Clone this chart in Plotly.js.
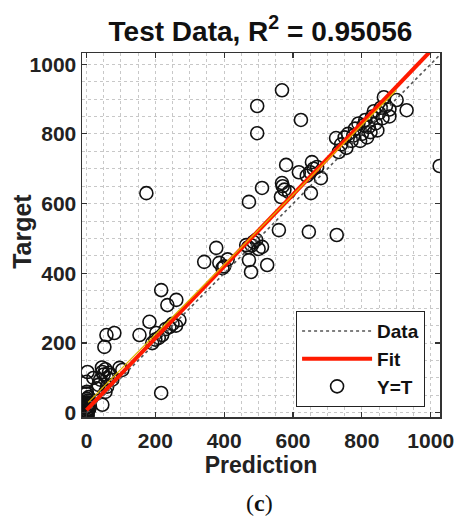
<!DOCTYPE html>
<html>
<head>
<meta charset="utf-8">
<script src="https://cdn.plot.ly/plotly-3.0.1.min.js"></script>
<style>html,body{margin:0;padding:0;background:#fff;}#chart{width:457px;height:523px;}</style>
</head>
<body>
<div id="chart"></div>
<script>
// Test data: prediction (x) vs target (y)
const prediction = [
  0,1,2,3,0,5,2,1,4,6,0,3,8,2,1,0,5,3,10,7,
  3,0,20,46,40,50,55,60,65,70,45,35,75,60,104,96,46,30,55,
  58,81,52,154,183,203,220,191,241,217,235,261,270,250,230,210,200,260,217,
  342,377,386,400,410,395,464,493,510,472,478,525,480,500,485,470,
  472,510,580,617,655,681,568,565,588,652,575,570,660,650,640,670,
  559,646,727,
  174,496,496,568,623,1026,
  725,733,740,750,760,770,780,790,800,810,820,830,840,850,860,845,815,795,870,864,901,930,880,855,835,825,775,755,805,880
];
const target = [
  0,-5,5,10,15,20,25,30,35,45,55,-8,12,40,60,3,8,-3,18,28,
  117,89,100,117,95,110,125,100,115,108,130,80,95,75,123,129,23,70,60,
  223,229,189,223,261,229,223,200,246,352,309,324,266,255,240,215,210,250,57,
  433,473,430,420,440,415,481,496,476,438,404,424,480,470,490,475,
  605,645,711,690,719,673,659,619,633,630,640,650,700,690,680,705,
  524,519,510,
  630,880,802,925,840,708,
  788,748,770,790,800,780,815,830,800,840,820,850,830,860,845,810,790,780,880,905,897,868,870,875,865,805,795,760,825,850
];
// Fitted line end points and Y=T reference
const fitX = [0, 1000];
const fitY = [8, 1038];
const fit2X = [5, 900];
const fit2Y = [30, 925];
const refX = [0, 1030];
const refY = [0, 1030];
const tickVals = [0, 200, 400, 600, 800, 1000];

const traces = [
  {x: prediction, y: target, type: 'scatter', mode: 'markers', name: 'Y=T', legendrank: 3,
   marker: {symbol: 'circle-open', size: 13, color: '#111', line: {width: 1.6, color: '#111'}}},
  {x: refX, y: refY, type: 'scatter', mode: 'lines', name: 'Data', legendrank: 1,
   line: {color: '#555', width: 1.6, dash: 'dot'}},
  {x: fitX, y: fitY, type: 'scatter', mode: 'lines', name: 'Fit', legendrank: 2,
   line: {color: '#ff1a00', width: 4}},
  {x: fit2X, y: fit2Y, type: 'scatter', mode: 'lines', showlegend: false,
   line: {color: '#e0b000', width: 1.3}}
];

const axisCommon = {
  showline: true, mirror: 'ticks', linecolor: '#333', linewidth: 1.5,
  ticks: 'inside', ticklen: 5, tickcolor: '#333', tickwidth: 1.2,
  tickvals: tickVals, zeroline: false,
  showgrid: true, gridcolor: '#c8c8c8', griddash: 'dot', gridwidth: 1,
  minor: {dtick: 50, showgrid: true, gridcolor: '#c8c8c8', griddash: 'dot', gridwidth: 1, ticks: ''},
  tickfont: {family: 'Liberation Sans, Arial, sans-serif', size: 21, color: '#222', weight: 'bold'}
};

const layout = {
  width: 457, height: 523,
  margin: {l: 82, r: 17, t: 53, b: 106},
  paper_bgcolor: '#fff', plot_bgcolor: '#fff',
  font: {family: 'Liberation Sans, Arial, sans-serif', color: '#222'},
  title: {text: '<b>Test Data, R<sup>2</sup> = 0.95056</b>', font: {size: 28, color: '#111'},
          x: 0.57, xanchor: 'center', y: 0.94, yanchor: 'middle', yref: 'container'},
  xaxis: Object.assign({}, axisCommon, {range: [-13, 1027], ticklabelstandoff: 4,
    title: {text: '<b>Prediction</b>', font: {size: 23, color: '#222'}, standoff: 6}}),
  yaxis: Object.assign({}, axisCommon, {range: [-12, 1032]}),
  showlegend: true,
  legend: {x: 0.598, y: 0.291, xanchor: 'left', yanchor: 'top',
    bgcolor: '#fff', bordercolor: '#222', borderwidth: 1,
    font: {size: 19, color: '#111', weight: 'bold'}, itemwidth: 70, tracegroupgap: 0},
  annotations: [
    {text: '<b>Target</b>', xref: 'paper', yref: 'paper', x: -0.168, y: 0.511,
     xanchor: 'center', yanchor: 'middle', textangle: -90, showarrow: false,
     font: {family: 'Liberation Sans, Arial, sans-serif', size: 25, color: '#222'}},
    {text: '(<b>c</b>)', xref: 'paper', yref: 'paper', x: 0.495, y: -0.235,
     xanchor: 'center', yanchor: 'middle', showarrow: false,
     font: {family: 'Liberation Serif, Times New Roman, serif', size: 24, color: '#111'}}]
};

Plotly.newPlot('chart', traces, layout, {displayModeBar: false, staticPlot: true});
</script>
</body>
</html>
